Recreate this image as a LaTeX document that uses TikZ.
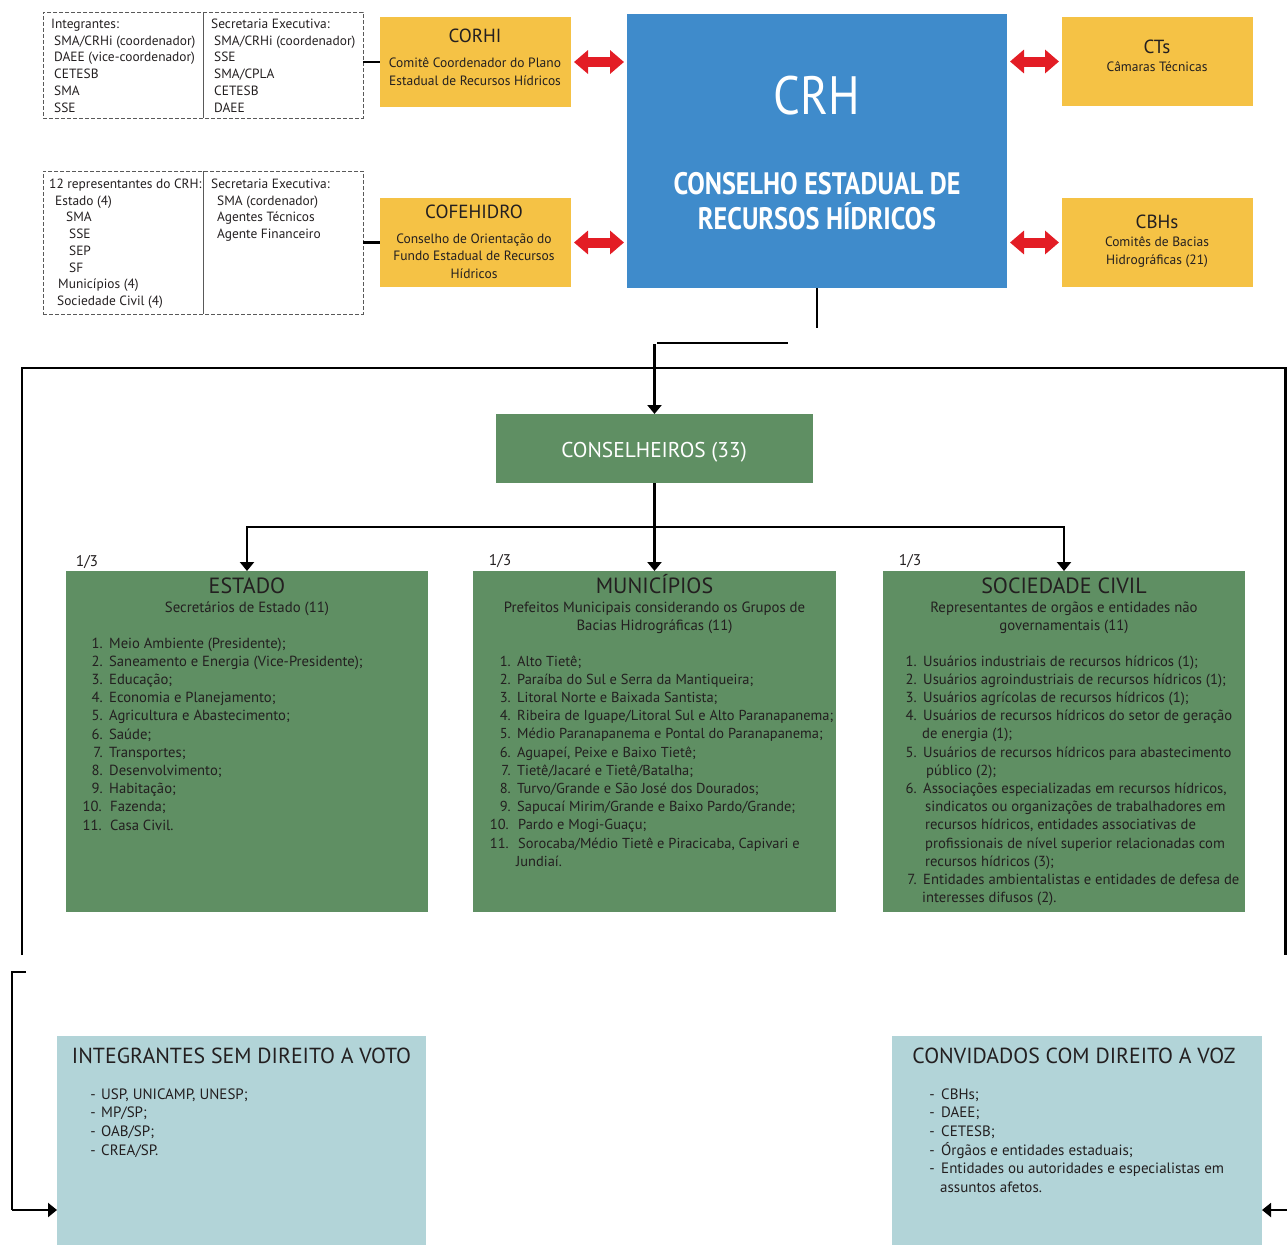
\documentclass[tikz,border=0pt]{standalone}
\usepackage{fontspec}
\setmainfont{PT Sans}
\usetikzlibrary{arrows.meta}
\definecolor{orng}{HTML}{F5C245}
\definecolor{crhblue}{HTML}{3F8BCB}
\definecolor{grn}{HTML}{5F8F63}
\definecolor{ltblue}{HTML}{B2D4D8}
\definecolor{arrred}{HTML}{E31D25}
\definecolor{txt}{HTML}{231F20}
\newcommand\lsitem[7][lst]{%
  \node[#1,anchor=base east] (#2n) at (#3,#5) {#6};
  \node[#1,anchor=base west] (#2t) at (#4,#5) {#7};}
\begin{document}
\begin{tikzpicture}[x=1pt,y=-1pt,
  boxn/.style={inner sep=0pt,outer sep=0pt,anchor=north west,draw=none},
  dbox/.style={boxn,draw=black!65,line width=0.9pt,dash pattern=on 4pt off 2pt},
  sm/.style={font=\fontsize{13.4}{16}\selectfont,text=txt,inner sep=0pt,anchor=base west},
  ttl/.style={font=\fontsize{19}{22}\selectfont,text=txt,inner sep=0pt,anchor=base},
  sub/.style={font=\fontsize{13.5}{16}\selectfont,text=txt,inner sep=0pt,anchor=base},
  gsub/.style={font=\fontsize{14.8}{17}\selectfont,text=txt,inner sep=0pt,anchor=base},
  lst/.style={font=\fontsize{14.65}{17}\selectfont,text=txt,inner sep=0pt},
  mlst/.style={font=\fontsize{14.45}{17}\selectfont,text=txt,inner sep=0pt},
  blst/.style={font=\fontsize{15}{18}\selectfont,text=txt,inner sep=0pt},
  gttl/.style={font=\fontsize{22}{26}\selectfont,text=txt,inner sep=0pt,anchor=base},
  bttl/.style={font=\fontsize{21.8}{25}\selectfont,text=txt,inner sep=0pt,anchor=base},
  conn/.style={line width=2.4pt,black},
  arr/.style={conn,-{Triangle[length=9pt,width=14pt]}},
  redarr/.style={arrred,line width=10pt,shorten <=3pt,shorten >=3pt,
     {Triangle[length=14pt,width=23pt]}-{Triangle[length=14pt,width=23pt]}}]
\useasboundingbox (0,0) rectangle (1287,1245);

% ---------- dashed boxes ----------
\node[dbox,minimum width=320pt,minimum height=106pt] (dash1) at (43,12) {};
\draw[black!65,line width=0.9pt] (dash1.north) -- (dash1.south);
\node[sm] (d1a) at (51,28.5) {Integrantes:};
\node[sm] (d1b) at (54,45.2) {SMA/CRHi (coordenador)};
\node[sm] (d1c) at (54,61.9) {DAEE (vice-coordenador)};
\node[sm] (d1d) at (54,78.6) {CETESB};
\node[sm] (d1e) at (54,95.3) {SMA};
\node[sm] (d1f) at (54,112) {SSE};
\node[sm] (d1g) at (211,28.5) {Secretaria Executiva:};
\node[sm] (d1h) at (214,45.2) {SMA/CRHi (coordenador)};
\node[sm] (d1i) at (214,61.9) {SSE};
\node[sm] (d1j) at (214,78.6) {SMA/CPLA};
\node[sm] (d1k) at (214,95.3) {CETESB};
\node[sm] (d1l) at (214,112) {DAEE};

\node[dbox,minimum width=320pt,minimum height=143pt] (dash2) at (43,171) {};
\draw[black!65,line width=0.9pt] (dash2.north) -- (dash2.south);
\node[sm] (d2a) at (49,188.5) {12 representantes do CRH:};
\node[sm] (d2b) at (55,205.2) {Estado (4)};
\node[sm] (d2c) at (66,221.9) {SMA};
\node[sm] (d2d) at (69,238.6) {SSE};
\node[sm] (d2e) at (69,255.3) {SEP};
\node[sm] (d2f) at (69,272) {SF};
\node[sm] (d2g) at (58,288.7) {Municípios (4)};
\node[sm] (d2h) at (57,305.4) {Sociedade Civil (4)};
\node[sm] (d2i) at (211,188.5) {Secretaria Executiva:};
\node[sm] (d2j) at (217,205.2) {SMA (cordenador)};
\node[sm] (d2k) at (217,221.9) {Agentes Técnicos};
\node[sm] (d2l) at (217,238.6) {Agente Financeiro};

% ---------- orange boxes ----------
\node[boxn,fill=orng,minimum width=191pt,minimum height=90pt] (corhi) at (380,17) {};
\node[ttl] (corhit) at (475,42.6) {CORHI};
\node[sub] (corhis1) at (475,67.8) {Comitê Coordenador do Plano};
\node[sub] (corhis2) at (475,85.8) {Estadual de Recursos Hídricos};

\node[boxn,fill=orng,minimum width=191pt,minimum height=89pt] (cofe) at (380,198) {};
\node[ttl] (cofet) at (474,218.6) {COFEHIDRO};
\node[sub] (cofes1) at (474,243.8) {Conselho de Orientação do};
\node[sub] (cofes2) at (474,260.8) {Fundo Estadual de Recursos};
\node[sub] (cofes3) at (474,278.8) {Hídricos};

\node[boxn,fill=orng,minimum width=191pt,minimum height=89pt] (cts) at (1062,17) {};
\node[ttl] (ctst) at (1157,53.6) {CTs};
\node[sub] (ctss) at (1157,71.6) {Câmaras Técnicas};

\node[boxn,fill=orng,minimum width=191pt,minimum height=89pt] (cbhs) at (1062,198) {};
\node[ttl] (cbhst) at (1157,228.6) {CBHs};
\node[sub] (cbhss1) at (1157,246.8) {Comitês de Bacias};
\node[sub] (cbhss2) at (1157,264.8) {Hidrográficas (21)};

% ---------- CRH ----------
\node[boxn,fill=crhblue,minimum width=380pt,minimum height=274pt] (crh) at (627,14) {};
\node[inner sep=0pt,anchor=base,text=white,font=\fontsize{54}{60}\selectfont] (crht) at (817,114) {\scalebox{0.87}[1]{CRH}};
\node[inner sep=0pt,anchor=base,text=white,font=\fontsize{31}{36}\selectfont\bfseries] (crhs1) at (817,194) {\scalebox{0.845}[1]{CONSELHO ESTADUAL DE}};
\node[inner sep=0pt,anchor=base,text=white,font=\fontsize{31}{36}\selectfont\bfseries] (crhs2) at (817,229) {\scalebox{0.845}[1]{RECURSOS HÍDRICOS}};

% ---------- side connectors ----------
\draw[conn] (corhi.west -| dash1.east) -- (corhi.west);
\draw[conn] (cofe.west -| dash2.east) -- (cofe.west);
\draw[redarr] (corhi.east) -- (corhi.east -| crh.west);
\draw[redarr] (cofe.east) -- (cofe.east -| crh.west);
\draw[redarr] (cts.west -| crh.east) -- (cts.west);
\draw[redarr] (cbhs.west -| crh.east) -- (cbhs.west);

% ---------- conselheiros ----------
\node[boxn,fill=grn,minimum width=317pt,minimum height=69pt] (cons) at (496,414) {};
\node[inner sep=0pt,anchor=base,text=white,font=\fontsize{21.4}{25}\selectfont] (const) at (654,457.5) {CONSELHEIROS (33)};

\coordinate (c1) at (817,328);
\draw[conn] (crh.south) -- (c1);
\coordinate (h1) at (657,343);
\coordinate (h2) at (788,343);
\draw[conn,line width=2pt] (h1) -- (h2);
\coordinate (a1) at (654.5,344);
\draw[arr] (a1) -- (cons.north);

\coordinate (f1) at (22,955);
\coordinate (f2) at (22,368);
\coordinate (f3) at (1285.5,368);
\coordinate (f4) at (1285.5,955);
\draw[conn] (f1) -- (f2) -- (f3) -- (f4);

% ---------- three groups ----------
\node[boxn,fill=grn,minimum width=362pt,minimum height=341pt] (est) at (66,571) {};
\node[boxn,fill=grn,minimum width=363pt,minimum height=341pt] (mun) at (473,571) {};
\node[boxn,fill=grn,minimum width=362pt,minimum height=341pt] (soc) at (883,571) {};

\coordinate (b1) at (247,527);
\coordinate (b2) at (1064,527);
\draw[arr] (cons.south) -- (mun.north);
\draw[arr] (b2) -- (b1) -- (est.north);
\draw[arr] (b1) -- (b2) -- (soc.north);

\node[inner sep=0pt,anchor=base,text=txt,font=\fontsize{15.5}{18}\selectfont] (f31) at (87,566) {1/3};
\node[inner sep=0pt,anchor=base,text=txt,font=\fontsize{15.5}{18}\selectfont] (f32) at (500,565) {1/3};
\node[inner sep=0pt,anchor=base,text=txt,font=\fontsize{15.5}{18}\selectfont] (f33) at (910,565) {1/3};

\node[gttl] (estt) at (247,593.7) {ESTADO};
\node[gsub] (ests) at (247,612) {Secretários de Estado (11)};
\lsitem{e1}{103}{109}{648}{1.}{Meio Ambiente (Presidente);}
\lsitem{e2}{103}{109}{666.2}{2.}{Saneamento e Energia (Vice-Presidente);}
\lsitem{e3}{103}{109}{684.4}{3.}{Educação;}
\lsitem{e4}{103}{109}{702.6}{4.}{Economia e Planejamento;}
\lsitem{e5}{103}{109}{720.8}{5.}{Agricultura e Abastecimento;}
\lsitem{e6}{103}{109}{739.0}{6.}{Saúde;}
\lsitem{e7}{103}{109}{757.2}{7.}{Transportes;}
\lsitem{e8}{103}{109}{775.4}{8.}{Desenvolvimento;}
\lsitem{e9}{103}{109}{793.6}{9.}{Habitação;}
\lsitem{e10}{102}{110}{811.8}{10.}{Fazenda;}
\lsitem{e11}{102}{110}{830.0}{11.}{Casa Civil.}

\node[gttl] (munt) at (654.5,593.7) {MUNICÍPIOS};
\node[gsub] (muns1) at (654.5,612) {Prefeitos Municipais considerando os Grupos de};
\node[gsub] (muns2) at (654.5,630) {Bacias Hidrográficas (11)};
\lsitem[mlst]{m1}{511}{517}{666}{1.}{Alto Tietê;}
\lsitem[mlst]{m2}{511}{517}{684.2}{2.}{Paraíba do Sul e Serra da Mantiqueira;}
\lsitem[mlst]{m3}{511}{517}{702.4}{3.}{Litoral Norte e Baixada Santista;}
\lsitem[mlst]{m4}{511}{517}{720.6}{4.}{Ribeira de Iguape/Litoral Sul e Alto Paranapanema;}
\lsitem[mlst]{m5}{511}{517}{738.8}{5.}{Médio Paranapanema e Pontal do Paranapanema;}
\lsitem[mlst]{m6}{511}{517}{757.0}{6.}{Aguapeí, Peixe e Baixo Tietê;}
\lsitem[mlst]{m7}{511}{517}{775.2}{7.}{Tietê/Jacaré e Tietê/Batalha;}
\lsitem[mlst]{m8}{511}{517}{793.4}{8.}{Turvo/Grande e São José dos Dourados;}
\lsitem[mlst]{m9}{511}{517}{811.6}{9.}{Sapucaí Mirim/Grande e Baixo Pardo/Grande;}
\lsitem[mlst]{m10}{509}{518}{829.8}{10.}{Pardo e Mogi-Guaçu;}
\lsitem[mlst]{m11}{509}{518}{848.0}{11.}{Sorocaba/Médio Tietê e Piracicaba, Capivari e}
\lsitem[mlst]{m12}{509}{516}{866.2}{}{Jundiaí.}

\node[gttl] (soct) at (1064,593.7) {SOCIEDADE CIVIL};
\node[gsub] (socs1) at (1064,612) {Representantes de orgãos e entidades não};
\node[gsub] (socs2) at (1064,630) {governamentais (11)};
\lsitem{s1}{917}{923}{666}{1.}{Usuários industriais de recursos hídricos (1);}
\lsitem{s2}{917}{923}{684.2}{2.}{Usuários agroindustriais de recursos hídricos (1);}
\lsitem{s3}{917}{923}{702.4}{3.}{Usuários agrícolas de recursos hídricos (1);}
\lsitem{s4}{917}{923}{720.6}{4.}{Usuários de recursos hídricos do setor de geração}
\lsitem{s5}{917}{922}{738.8}{}{de energia (1);}
\lsitem{s6}{917}{923}{757.0}{5.}{Usuários de recursos hídricos para abastecimento}
\lsitem{s7}{917}{926}{775.2}{}{público (2);}
\lsitem{s8}{917}{923}{793.4}{6.}{Associações especializadas em recursos hídricos,}
\lsitem{s9}{917}{925}{811.6}{}{sindicatos ou organizações de trabalhadores em}
\lsitem{s10}{917}{925}{829.8}{}{recursos hídricos, entidades associativas de}
\lsitem{s11}{917}{925}{848.0}{}{profissionais de nível superior relacionadas com}
\lsitem{s12}{917}{925}{866.2}{}{recursos hídricos (3);}
\lsitem{s13}{917}{923}{884.4}{7.}{Entidades ambientalistas e entidades de defesa de}
\lsitem{s14}{917}{922}{902.6}{}{interesses difusos (2).}

% ---------- bottom boxes ----------
\node[boxn,fill=ltblue,minimum width=369pt,minimum height=209pt] (intg) at (57,1036) {};
\node[bttl] (intgt) at (241.5,1063) {INTEGRANTES SEM DIREITO A VOTO};
\lsitem[blst]{i1}{96}{101}{1099}{-}{USP, UNICAMP, UNESP;}
\lsitem[blst]{i2}{96}{101}{1117.7}{-}{MP/SP;}
\lsitem[blst]{i3}{96}{101}{1136.4}{-}{OAB/SP;}
\lsitem[blst]{i4}{96}{101}{1155.1}{-}{CREA/SP.}

\node[boxn,fill=ltblue,minimum width=370pt,minimum height=209pt] (conv) at (892,1036) {};
\node[bttl] (convt) at (1074,1063) {CONVIDADOS COM DIREITO A VOZ};
\lsitem[blst]{v1}{935}{941}{1099}{-}{CBHs;}
\lsitem[blst]{v2}{935}{941}{1117.7}{-}{DAEE;}
\lsitem[blst]{v3}{935}{941}{1136.4}{-}{CETESB;}
\lsitem[blst]{v4}{935}{941}{1155.1}{-}{Órgãos e entidades estaduais;}
\lsitem[blst]{v5}{935}{941}{1173.8}{-}{Entidades ou autoridades e especialistas em}
\lsitem[blst]{v6}{935}{940}{1192.5}{}{assuntos afetos.}

\coordinate (l1) at (26,972);
\coordinate (l2) at (12,972);
\coordinate (l3) at (12,1210);
\draw[conn] (l1) -- (l2) -- (l3);
\draw[arr] (l3) -- (l3 -| intg.west);
\coordinate (r1) at (1287,1210);
\draw[arr,line width=2pt] (r1) -- (r1 -| conv.east);
\end{tikzpicture}
\end{document}
